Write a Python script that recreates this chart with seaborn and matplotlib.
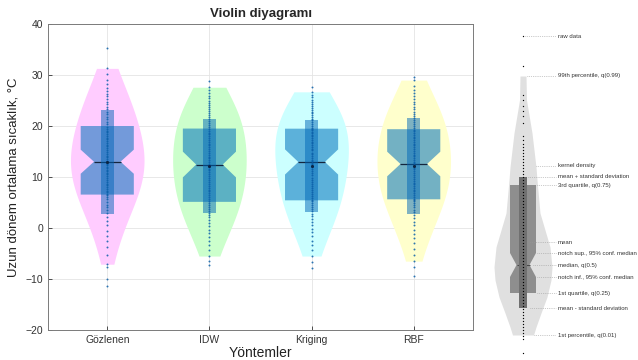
import matplotlib
matplotlib.use("Agg")
import matplotlib.pyplot as plt
import numpy as np
import pandas as pd
import seaborn as sns

methods = ["Gözlenen", "IDW", "Kriging", "RBF"]

gozlenen = [-11.4, -10.0, -7.7, -7.1, -5.2, -3.8, -2.6, -1.5, -0.5, 0.5, 1.4, 2.2, 2.9, 3.5, 4.1, 4.6, 5.1, 5.6, 6.0, 6.4,
            6.6, 7.0, 7.3, 7.7, 8.0, 8.4, 8.7, 9.1, 9.4, 9.8, 10.1, 10.5, 10.8, 11.1, 11.4, 11.7, 12.0, 12.3, 12.5, 12.8,
            13.2, 13.5, 13.9, 14.2, 14.6, 14.9, 15.3, 15.6, 16.0, 16.3, 16.7, 17.0, 17.4, 17.7, 18.1, 18.4, 18.8, 19.1,
            19.5, 19.9, 20.3, 20.8, 21.3, 21.8, 22.3, 22.8, 23.3, 23.8, 24.3, 24.8, 25.3, 25.8, 26.3, 26.9, 27.5, 28.2,
            29.0, 30.1, 31.3, 35.3]
idw = [-7.3, -6.5, -5.5, -4.4, -3.4, -2.5, -1.7, -1.0, -0.3, 0.4, 1.0, 1.6, 2.1, 2.6, 3.0, 3.4, 3.8, 4.2, 4.5, 4.9,
       5.2, 5.6, 6.0, 6.4, 6.8, 7.2, 7.5, 7.9, 8.3, 8.7, 9.0, 9.4, 9.8, 10.2, 10.5, 10.9, 11.3, 11.6, 12.0, 12.3,
       12.6, 13.0, 13.3, 13.7, 14.0, 14.4, 14.7, 15.1, 15.5, 15.8, 16.2, 16.5, 16.9, 17.3, 17.6, 18.0, 18.4, 18.7,
       19.1, 19.4, 19.8, 20.2, 20.6, 21.0, 21.4, 21.8, 22.2, 22.6, 23.0, 23.4, 23.8, 24.2, 24.6, 25.0, 25.4, 25.9,
       26.4, 27.0, 27.6, 28.8]
kriging = [-7.8, -6.6, -5.5, -4.4, -3.4, -2.5, -1.6, -0.8, -0.1, 0.6, 1.2, 1.8, 2.3, 2.8, 3.3, 3.8, 4.2, 4.6, 4.9, 5.2,
           5.5, 5.9, 6.3, 6.7, 7.1, 7.5, 7.9, 8.3, 8.7, 9.1, 9.5, 9.9, 10.3, 10.7, 11.1, 11.5, 11.9, 12.2, 12.5, 12.8,
           13.1, 13.4, 13.8, 14.1, 14.5, 14.8, 15.2, 15.5, 15.9, 16.2, 16.6, 16.9, 17.3, 17.6, 18.0, 18.3, 18.6, 18.9,
           19.2, 19.4, 19.7, 20.0, 20.4, 20.7, 21.1, 21.4, 21.8, 22.1, 22.5, 22.8, 23.2, 23.5, 23.9, 24.3, 24.7, 25.1,
           25.6, 26.1, 26.7, 27.6]
rbf = [-9.4, -7.6, -6.5, -5.3, -4.1, -3.0, -2.0, -1.1, -0.3, 0.5, 1.2, 1.9, 2.5, 3.1, 3.6, 4.1, 4.5, 4.9, 5.2, 5.4,
       5.7, 6.1, 6.5, 6.8, 7.2, 7.5, 7.9, 8.2, 8.6, 8.9, 9.3, 9.6, 10.0, 10.4, 10.7, 11.1, 11.5, 11.8, 12.1, 12.4,
       12.7, 13.0, 13.4, 13.7, 14.1, 14.4, 14.8, 15.1, 15.5, 15.8, 16.2, 16.5, 16.9, 17.2, 17.6, 17.9, 18.3, 18.7,
       19.0, 19.3, 19.6, 20.0, 20.4, 20.8, 21.2, 21.6, 22.0, 22.4, 22.8, 23.3, 23.8, 24.3, 24.8, 25.3, 25.9, 26.5,
       27.1, 27.8, 29.0, 29.6]

# 1st / 99th percentile, where each violin is cut
q01 = [-7.2, -5.5, -5.5, -6.5]
q99 = [31.4, 27.6, 26.7, 29.0]

violin_colors = ["#ffccff", "#ccffcc", "#ccffff", "#ffffcc"]
box_rgba = (0.0, 0.447, 0.741, 0.55)
bar_rgba = (0.0, 0.40, 0.72, 0.5)
dot_color = "#0a5fa8"

# legend sketch on the right (values in its own units)
schem_raw = [32.4, 29.4, 26.5, 26.0, 25.4, 24.9, 24.4, 23.7, 22.4, 22.0, 21.6, 21.3, 21.0, 20.7, 20.4, 20.1, 19.8,
             19.5, 19.2, 18.9, 18.6, 18.3, 18.0, 17.7, 17.4, 17.1, 16.8, 16.5, 16.2, 15.9, 15.6, 15.3, 15.0, 14.7,
             14.4, 14.1, 13.8, 13.5, 13.2, 12.9, 12.6, 12.3, 12.0, 11.7, 11.4, 11.1, 10.8, 10.5, 10.2, 9.9, 9.6,
             9.3, 9.0, 8.7, 8.4, 8.1, 7.8, 7.5, 7.2, 6.9, 6.6, 6.3, 6.0, 5.7, 5.4, 5.1, 4.8, 4.5, 4.2, 3.9, 3.6,
             3.3, 3.0, 2.7, 2.4, 2.1, 0.7]
schem_y = [28.4, 26.0, 22.7, 21.0, 19.3, 18.0, 14.7, 13.0, 11.3, 9.3, 8.0, 6.3, 4.7, 3.3, 2.5]
schem_hw = [3, 3.5, 9, 11, 13, 14, 17, 22, 27, 29, 28, 24, 18, 13, 10.5]
schem_q = {"q01": 2.5, "q25": 6.7, "med": 9.5, "q75": 17.5, "q99": 28.4, "cilo": 8.3, "cihi": 10.7}
schem_mean = 11.8
schem_std = 6.55
schem_labels = ["raw data", "99th percentile, q(0.99)", "kernel density", "mean + standard deviation",
                "3rd quartile, q(0.75)", "mean", "notch sup., 95% conf. median", "median, q(0.5)",
                "notch inf., 95% conf. median", "1st quartile, q(0.25)", "mean - standard deviation",
                "1st percentile, q(0.01)"]
schem_label_y = [32.4, 28.4, 19.4, 18.3, 17.5, 11.8, 10.7, 9.5, 8.3, 6.7, 5.2, 2.5]
schem_line_x0 = [2, 4, 13, 5, 14, 7, 14, 10, 14, 14, 7, 11]

sns.set_style("ticks")
plt.rcParams["font.family"] = ["Liberation Sans", "DejaVu Sans"]

df = pd.DataFrame({
    "Yöntem": np.repeat(methods, [len(gozlenen), len(idw), len(kriging), len(rbf)]),
    "Sıcaklık": np.concatenate([gozlenen, idw, kriging, rbf]),
})
lo = df["Yöntem"].map(dict(zip(methods, q01)))
hi = df["Yöntem"].map(dict(zip(methods, q99)))
df_v = df[(df["Sıcaklık"] >= lo) & (df["Sıcaklık"] <= hi)]
stats = df.groupby("Yöntem")["Sıcaklık"].agg(["mean", "std"]).reindex(methods)

fig = plt.figure(figsize=(6.38, 3.6), dpi=100)
ax = fig.add_axes([48 / 638, 30 / 360, 425 / 638, 306 / 360])

sns.violinplot(data=df_v, x="Yöntem", y="Sıcaklık", hue="Yöntem", order=methods, hue_order=methods,
               palette=violin_colors, inner=None, cut=0, density_norm="width", width=0.72, linewidth=0,
               saturation=1, legend=False, bw_adjust=1.5, ax=ax)
sns.boxplot(data=df, x="Yöntem", y="Sıcaklık", order=methods, notch=True, width=0.52, whis=0,
            showfliers=False, showcaps=False, saturation=1,
            boxprops=dict(facecolor=box_rgba, edgecolor="none", linewidth=0),
            medianprops=dict(color="#14253d", linewidth=0.9),
            whiskerprops=dict(linewidth=0), ax=ax)
ax.bar(np.arange(len(methods)), 2 * stats["std"], bottom=stats["mean"] - stats["std"], width=0.13,
       color=bar_rgba, linewidth=0, zorder=3)
sns.stripplot(data=df, x="Yöntem", y="Sıcaklık", order=methods, jitter=False, size=1.4, color=dot_color,
              linewidth=0, alpha=0.85, zorder=4, ax=ax)
ax.scatter(np.arange(len(methods)), stats["mean"], s=5, color="#0b2545", zorder=5, linewidths=0)

ax.set_xlim(-0.58, 3.58)
ax.set_ylim(-20, 40)
ax.set_yticks(range(-20, 41, 10))
ax.grid(True, color="#e4e4e4", linewidth=0.6)
ax.set_axisbelow(True)
ax.tick_params(direction="in", length=3, labelsize=7.5, colors="#333333", width=0.6)
for sp in ax.spines.values():
    sp.set_color("#7a7a7a")
    sp.set_linewidth(0.7)
ax.set_title("Violin diyagramı", fontsize=9.5, fontweight="bold", pad=5)
ax.set_xlabel("Yöntemler", fontsize=10, color="#222222", labelpad=1)
ax.set_ylabel("Uzun dönem ortalama sıcaklık, °C", fontsize=9.5, color="#222222", labelpad=4)

# schematic panel
ax2 = fig.add_axes([490 / 638, 0, 148 / 638, 1])
ax2.set_xlim(-33, 115)
ax2.set_ylim(0, 36)
ax2.axis("off")
hw = np.array(schem_hw)
ax2.fill_betweenx(schem_y, -hw, hw, color="#e0e0e0", linewidth=0, zorder=1)
ax2.bxp([dict(med=schem_q["med"], q1=schem_q["q25"], q3=schem_q["q75"], cilo=schem_q["cilo"],
              cihi=schem_q["cihi"], whislo=schem_q["q25"], whishi=schem_q["q75"], fliers=[])],
        positions=[0], widths=26, shownotches=True, patch_artist=True, showcaps=False, showfliers=False,
        boxprops=dict(facecolor="#8e8e8e", edgecolor="none"),
        medianprops=dict(color="#4a4a4a", linewidth=0.8), whiskerprops=dict(linewidth=0), zorder=2)
ax2.bar(0, 2 * schem_std, bottom=schem_mean - schem_std, width=8, color="#707070", linewidth=0, zorder=3)
ax2.scatter(np.zeros(len(schem_raw)), schem_raw, s=0.9, color="black", linewidths=0, zorder=4)
for lab, yv, x0 in zip(schem_labels, schem_label_y, schem_line_x0):
    ax2.plot([x0, 33], [yv, yv], ls=":", color="#9a9a9a", linewidth=0.5, zorder=5)
    ax2.text(35, yv, lab, fontsize=4.3, va="center", ha="left", color="#333333")

fig.savefig("out.png", dpi=100)
